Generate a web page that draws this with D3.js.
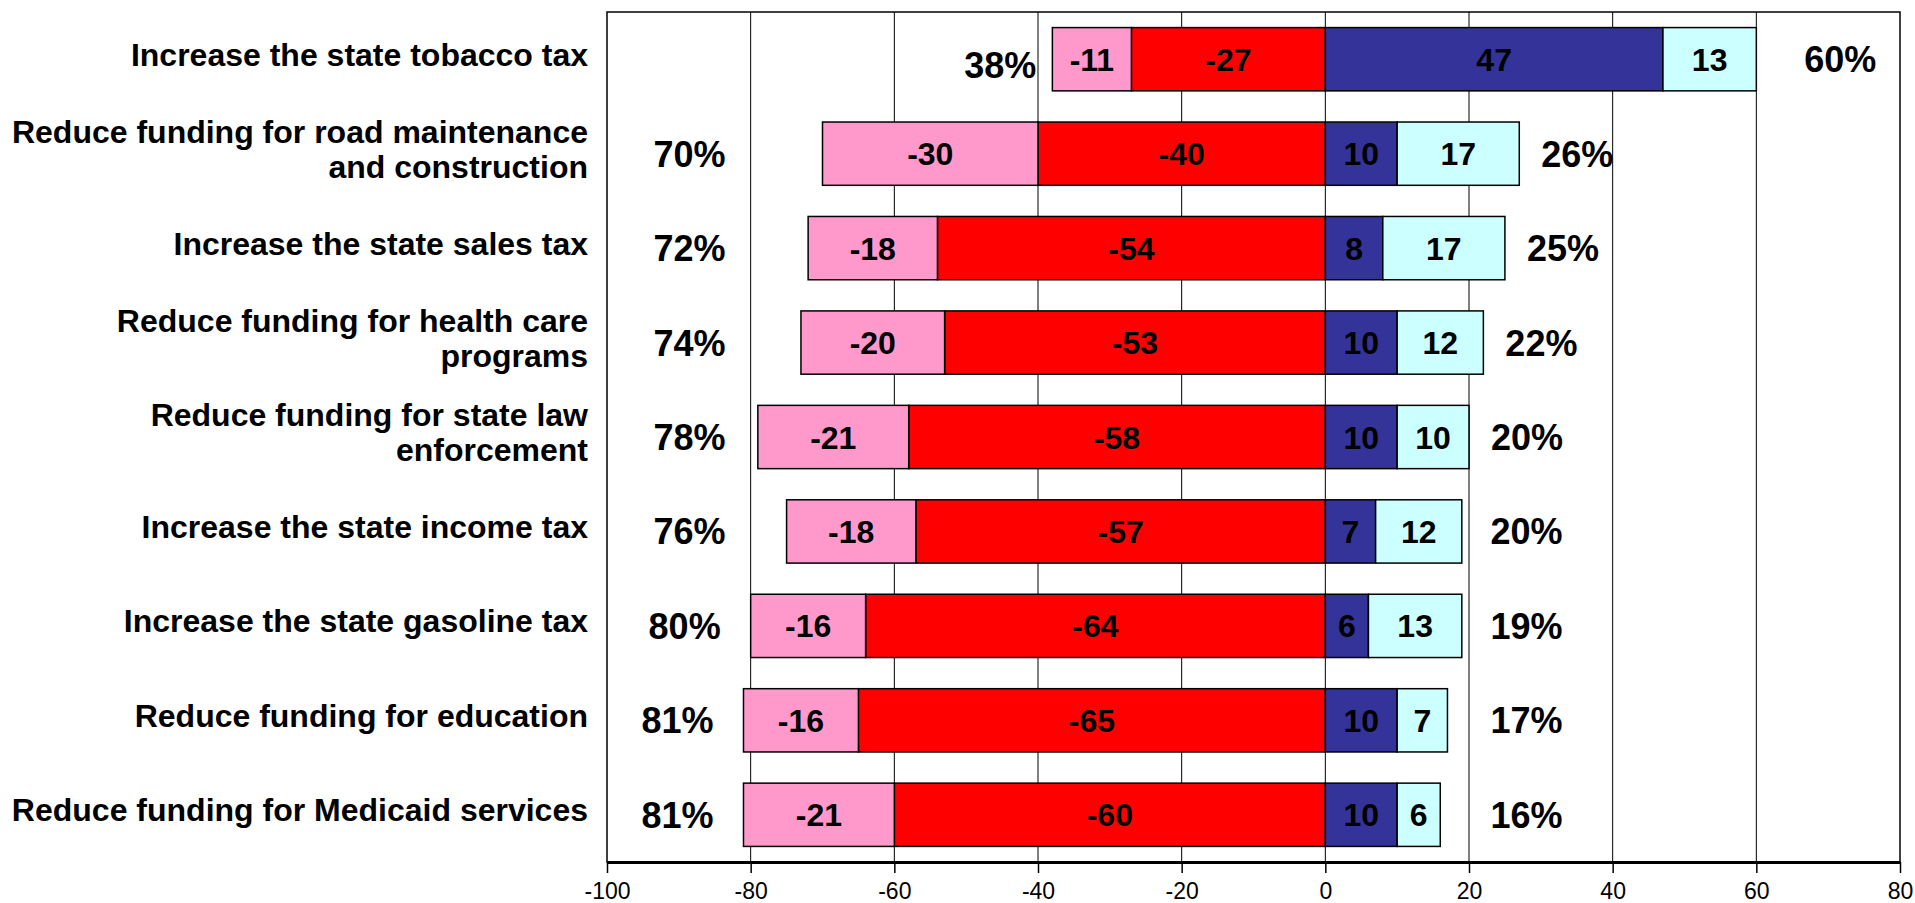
<!DOCTYPE html>
<html>
<head>
<meta charset="utf-8">
<script src="https://cdn.jsdelivr.net/npm/d3@7/dist/d3.min.js"></script>
<style>
  html, body { margin: 0; padding: 0; background: #fff; }
  svg { display: block; font-family: "Liberation Sans", Arial, sans-serif; }
</style>
</head>
<body>
<svg id="chart" width="1915" height="903"></svg>
<script>
// ── Data ──────────────────────────────────────────────────────────────────────
const categories = [
  'Increase the state tobacco tax',
  'Reduce funding for road maintenance\nand construction',
  'Increase the state sales tax',
  'Reduce funding for health care\nprograms',
  'Reduce funding for state law\nenforcement',
  'Increase the state income tax',
  'Increase the state gasoline tax',
  'Reduce funding for education',
  'Reduce funding for Medicaid services'
];
const somewhatOppose = [-11, -30, -18, -20, -21, -18, -16, -16, -21];
const stronglyOppose = [-27, -40, -54, -53, -58, -57, -64, -65, -60];
const stronglyFavor  = [47, 10, 8, 10, 10, 7, 6, 10, 10];
const somewhatFavor  = [13, 17, 17, 12, 10, 12, 13, 7, 6];
const totalOppose    = [38, 70, 72, 74, 78, 76, 80, 81, 81];
const totalFavor     = [60, 26, 25, 22, 20, 20, 19, 17, 16];
const xTicks         = [-100, -80, -60, -40, -20, 0, 20, 40, 60, 80];

// ── Layout ────────────────────────────────────────────────────────────────────
const svg = d3.select('#chart');
const plot = { left: 607, right: 1900, top: 12, bottom: 862 };

const x = d3.scaleLinear().domain([-100, 80]).range([plot.left, plot.right]);
const y = d3.scaleBand().domain(d3.range(categories.length))
  .range([plot.top, plot.bottom]).paddingInner(0.33).paddingOuter(0.165);

// series stacked outward from zero
const series = [
  { values: stronglyOppose, base: () => 0,                fill: '#FF0000' },
  { values: somewhatOppose, base: i => stronglyOppose[i], fill: '#FF99CC' },
  { values: stronglyFavor,  base: () => 0,                fill: '#333399' },
  { values: somewhatFavor,  base: i => stronglyFavor[i],  fill: '#CCFFFF' }
];

// ── Gridlines ─────────────────────────────────────────────────────────────────
svg.append('g').selectAll('line')
  .data(xTicks.filter(t => t > -100 && t < 80))
  .join('line')
  .attr('x1', d => x(d)).attr('x2', d => x(d))
  .attr('y1', plot.top).attr('y2', plot.bottom)
  .attr('stroke', '#000').attr('stroke-width', 1);

// plot border
svg.append('rect')
  .attr('x', plot.left).attr('y', plot.top)
  .attr('width', plot.right - plot.left).attr('height', plot.bottom - plot.top)
  .attr('fill', 'none').attr('stroke', '#000').attr('stroke-width', 1.5);

// ── Bars ──────────────────────────────────────────────────────────────────────
series.forEach(s => {
  const g = svg.append('g');
  const rows = s.values.map((v, i) => {
    const a = s.base(i), b = a + v;
    return { i, v, x0: Math.min(x(a), x(b)), x1: Math.max(x(a), x(b)) };
  });

  g.selectAll('rect').data(rows).join('rect')
    .attr('x', d => d.x0)
    .attr('y', d => y(d.i))
    .attr('width', d => d.x1 - d.x0)
    .attr('height', y.bandwidth())
    .attr('fill', s.fill)
    .attr('stroke', '#000')
    .attr('stroke-width', 1.5);

  g.selectAll('text').data(rows).join('text')
    .attr('x', d => (d.x0 + d.x1) / 2)
    .attr('y', d => y(d.i) + y.bandwidth() / 2)
    .attr('dy', '0.36em')
    .attr('text-anchor', 'middle')
    .attr('font-size', '32px')
    .attr('font-weight', 'bold')
    .attr('fill', '#000')
    .text(d => d.v);
});

// ── Totals ────────────────────────────────────────────────────────────────────
// short bars get their total right beside them, long ones line up in a column
svg.append('g').selectAll('text').data(totalOppose).join('text')
  .attr('x', (d, i) => {
    const start = x(stronglyOppose[i] + somewhatOppose[i]);
    return start > x(-50) ? start - 16 : Math.min(start - 30, x(-83.5));
  })
  .attr('y', (d, i) => y(i) + y.bandwidth() / 2 + (i === 0 ? 6 : 0))
  .attr('dy', '0.36em')
  .attr('text-anchor', 'end')
  .attr('font-size', '36px')
  .attr('font-weight', 'bold')
  .text(d => d + '%');

svg.append('g').selectAll('text').data(totalFavor).join('text')
  .attr('x', (d, i) => {
    const end = x(stronglyFavor[i] + somewhatFavor[i]);
    return end > x(40) ? end + 48 : Math.max(end + 22, x(23));
  })
  .attr('y', (d, i) => y(i) + y.bandwidth() / 2)
  .attr('dy', '0.36em')
  .attr('text-anchor', 'start')
  .attr('font-size', '36px')
  .attr('font-weight', 'bold')
  .text(d => d + '%');

// ── Category labels ───────────────────────────────────────────────────────────
const catFont = 32, lineH = 35;
const cat = svg.append('g').selectAll('text').data(categories).join('text')
  .attr('text-anchor', 'end')
  .attr('font-size', catFont + 'px')
  .attr('font-weight', 'bold');

cat.each(function(d, i) {
  const lines = d.split('\n');
  const cy = y(i) + y.bandwidth() / 2 - (lines.length - 1) * lineH / 2 - 5;
  d3.select(this).selectAll('tspan').data(lines).join('tspan')
    .attr('x', 588)
    .attr('y', (l, j) => cy + j * lineH)
    .attr('dy', '0.36em')
    .text(l => l);
});

// ── X axis ────────────────────────────────────────────────────────────────────
const axis = svg.append('g')
  .attr('transform', `translate(0,${plot.bottom})`)
  .call(d3.axisBottom(x).tickValues(xTicks).tickFormat(d => String(d))
    .tickSize(11).tickPadding(10).tickSizeOuter(0));

axis.select('.domain').attr('stroke', '#000').attr('stroke-width', 3);
axis.selectAll('.tick line').attr('stroke', '#000').attr('stroke-width', 1.5);
axis.selectAll('.tick text')
  .attr('font-size', '23px')
  .attr('font-family', '"Liberation Sans", Arial, sans-serif')
  .attr('fill', '#000');
</script>
</body>
</html>
